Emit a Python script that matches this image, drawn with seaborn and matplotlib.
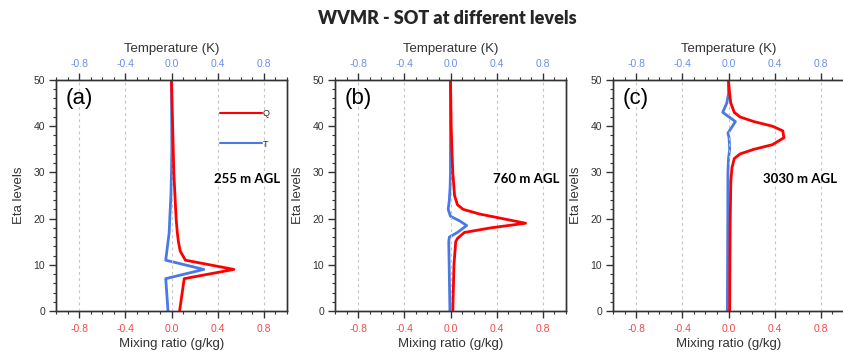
import numpy as np
import pandas as pd
import matplotlib
matplotlib.use("Agg")
import matplotlib.pyplot as plt
from matplotlib.ticker import MultipleLocator
from matplotlib.lines import Line2D
import seaborn as sns

# ---------------- data ----------------
panel_labels = ["(a)", "(b)", "(c)"]
height_labels = ["255 m AGL", "760 m AGL", "3030 m AGL"]

q_eta_a = [0, 7, 9, 11, 13, 15, 17, 20, 25, 30, 35, 40, 45, 50]
q_val_a = [0.07, 0.11, 0.54, 0.12, 0.075, 0.06, 0.05, 0.04, 0.03, 0.02, 0.015, 0.01, 0.005, 0.0]
t_eta_a = [0, 7, 9, 11, 13, 15, 17, 20, 25, 30, 35, 40, 50]
t_val_a = [-0.03, -0.05, 0.28, -0.05, -0.04, -0.03, -0.02, -0.015, -0.005, 0.0, 0.003, 0.002, 0.0]

q_eta_b = [0, 10, 15, 15.7, 17, 18, 19, 20, 21, 22, 23, 25, 30, 35, 40, 50]
q_val_b = [0.02, 0.03, 0.045, 0.06, 0.12, 0.35, 0.65, 0.45, 0.25, 0.11, 0.06, 0.035, 0.02, 0.012, 0.006, 0.0]
t_eta_b = [0, 15, 16, 17, 18.5, 19.5, 20.5, 22, 24, 27, 30, 50]
t_val_b = [-0.005, -0.015, -0.01, 0.06, 0.14, 0.08, 0.0, -0.02, -0.01, -0.003, 0.0, 0.0]

q_eta_c = [0, 10, 20, 28, 31, 33, 34, 35, 36, 37.5, 39, 40, 41, 42, 43, 45, 47, 50]
q_val_c = [0.01, 0.012, 0.015, 0.02, 0.03, 0.05, 0.1, 0.22, 0.38, 0.48, 0.47, 0.38, 0.22, 0.1, 0.05, 0.02, 0.01, 0.0]
t_eta_c = [0, 10, 20, 30, 33, 35, 37.5, 38.5, 41, 43, 45, 47, 50]
t_val_c = [-0.01, -0.008, -0.006, -0.005, 0.0, 0.01, 0.005, -0.005, 0.06, -0.05, -0.015, 0.0, 0.0]

x_ticks = [-0.8, -0.4, 0.0, 0.4, 0.8]
x_ticklabels = ["-0.8", "-0.4", "0.0", "0.4", "0.8"]
y_ticks = [0, 10, 20, 30, 40, 50]

panels = [
    (q_eta_a, q_val_a, t_eta_a, t_val_a),
    (q_eta_b, q_val_b, t_eta_b, t_val_b),
    (q_eta_c, q_val_c, t_eta_c, t_val_c),
]

# ---------------- style ----------------
sns.set_theme(style="ticks")
plt.rcParams["font.family"] = ["Liberation Sans", "DejaVu Sans"]

RED = "#ff0000"
BLUE = "#4a78e4"
RED_TXT = "#f04a4a"
BLUE_TXT = "#6a8fee"
AX_COL = "#333333"

W, H = 843, 356
fig = plt.figure(figsize=(W / 100, H / 100), dpi=100)

lefts = [56, 335, 613]
ax_w, top_px, bot_px = 231, 80, 311

for i, (qe, qv, te, tv) in enumerate(panels):
    ax = fig.add_axes([lefts[i] / W, 1 - bot_px / H, ax_w / W, (bot_px - top_px) / H])
    ax.set_xlim(-1, 1)
    ax.set_ylim(0, 50)
    for xv in x_ticks:
        ax.axvline(xv, color="#c4c4c4", lw=0.8, ls=(0, (2.5, 3)), zorder=0)

    dq = pd.DataFrame({"eta": qe, "q": qv})
    sns.lineplot(data=dq, x="q", y="eta", ax=ax, color=RED, lw=2.0,
                 sort=False, estimator=None, orient="y")
    ax2 = ax.twiny()
    ax2.set_xlim(-1, 1)
    dt = pd.DataFrame({"eta": te, "t": tv})
    sns.lineplot(data=dt, x="t", y="eta", ax=ax2, color=BLUE, lw=2.0,
                 sort=False, estimator=None, orient="y")
    ax.set_zorder(ax2.get_zorder() + 1)
    ax.patch.set_visible(False)

    for a in (ax, ax2):
        for s in a.spines.values():
            s.set_color(AX_COL)
            s.set_linewidth(1.0)
    ax.set_xticks(x_ticks)
    ax.set_xticklabels(x_ticklabels)
    ax.set_yticks(y_ticks)
    ax.xaxis.set_minor_locator(MultipleLocator(0.1))
    ax.yaxis.set_minor_locator(MultipleLocator(2))
    ax2.set_xticks(x_ticks)
    ax2.set_xticklabels(x_ticklabels)
    ax2.xaxis.set_minor_locator(MultipleLocator(0.1))

    ax.tick_params(axis="x", which="major", direction="out", length=5, width=1,
                   color=AX_COL, labelcolor=RED_TXT, labelsize=7.5, pad=4)
    ax.tick_params(axis="y", which="major", direction="out", length=5, width=1,
                   color=AX_COL, labelcolor=AX_COL, labelsize=7.5, pad=3)
    ax.tick_params(which="minor", direction="out", length=2.5, width=0.8, color=AX_COL)
    ax2.tick_params(axis="x", which="major", direction="out", length=5, width=1,
                    color=AX_COL, labelcolor=BLUE_TXT, labelsize=7.5, pad=3)
    ax2.tick_params(axis="x", which="minor", direction="out", length=2.5, width=0.8,
                    color=AX_COL)

    ax.set_xlabel("Mixing ratio (g/kg)", fontsize=9.5, color=AX_COL, labelpad=3)
    ax.set_ylabel("Eta levels", fontsize=9.5, color=AX_COL, labelpad=6)
    ax2.set_xlabel("Temperature (K)", fontsize=9.5, color=AX_COL, labelpad=5)

    ax.text(0.04, 0.965, panel_labels[i], transform=ax.transAxes, fontsize=16,
            va="top", ha="left", color="black")
    ax.text(0.97, 0.57, height_labels[i], transform=ax.transAxes, fontsize=9.5,
            fontweight="bold", ha="right", va="center", color="black",
            family=["Lato", "DejaVu Sans"])

    if i == 0:
        handles = [Line2D([], [], color=RED, lw=1.5), Line2D([], [], color=BLUE, lw=1.5)]
        ax.legend(handles, ["Q", "T"], loc="upper left", bbox_to_anchor=(0.71, 0.875),
                  frameon=False, fontsize=6.5, handlelength=4.6, handletextpad=0.15,
                  labelspacing=2.4, borderpad=0, borderaxespad=0)

fig.text(447 / W, 1 - 18 / H, "WVMR - SOT at different levels", ha="center", va="center",
         fontsize=13, fontweight="heavy", family=["Lato", "DejaVu Sans"])

fig.savefig("out.png", dpi=100)
